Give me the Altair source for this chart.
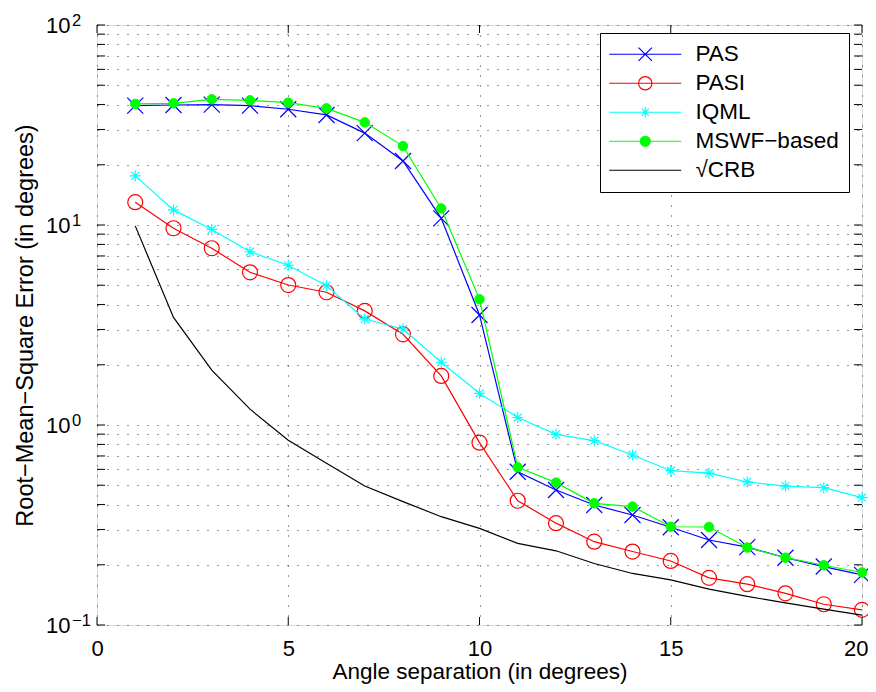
import altair as alt
import pandas as pd

# ---------------- data ----------------
angles = list(range(1, 21))
series_names = ["PAS", "PASI", "IQML", "MSWF−based", "√CRB"]
series_colors = ["#0000ff", "#ff0000", "#00ffff", "#00ff00", "#000000"]

pas = [39.5, 39.8, 40.0, 39.5, 37.9, 35.5, 28.8, 20.9, 10.8, 3.55,
       0.584, 0.473, 0.398, 0.355, 0.308, 0.266, 0.245, 0.217, 0.196, 0.178]
pasi = [13.0, 9.63, 7.65, 5.8, 5.01, 4.61, 3.72, 2.84, 1.76, 0.816,
        0.418, 0.323, 0.261, 0.233, 0.209, 0.172, 0.160, 0.144, 0.127, 0.119]
iqml = [17.6, 11.9, 9.5, 7.35, 6.29, 4.97, 3.39, 3.02, 2.06, 1.44,
        1.09, 0.898, 0.835, 0.708, 0.591, 0.574, 0.519, 0.495, 0.486, 0.433]
mswf = [40.3, 40.6, 42.5, 42.0, 40.9, 38.3, 32.6, 24.8, 12.1, 4.25,
        0.614, 0.515, 0.406, 0.391, 0.310, 0.309, 0.244, 0.217, 0.199, 0.183]
crb = [9.9, 3.45, 1.88, 1.2, 0.84, 0.643, 0.495, 0.414, 0.348, 0.304,
       0.256, 0.235, 0.203, 0.181, 0.168, 0.151, 0.139, 0.129, 0.120, 0.112]

x_tick_values = [0, 5, 10, 15, 20]
y_major_values = [0.1, 1, 10, 100]
y_major_base = "10"
y_major_exponents = ["−1", "0", "1", "2"]
y_minor_values = [0.2, 0.3, 0.4, 0.5, 0.6, 0.7, 0.8, 0.9,
                  2, 3, 4, 5, 6, 7, 8, 9,
                  20, 30, 40, 50, 60, 70, 80, 90]

# ---------------- tables ----------------
rows = []
for name, vals in zip(series_names, [pas, pasi, iqml, mswf, crb]):
    for a, v in zip(angles, vals):
        rows.append({"series": name, "angle": a, "rmse": v})
df = pd.DataFrame(rows)

y_all = sorted(y_major_values + y_minor_values)
ytick_df = pd.DataFrame({"v": y_all})
xtick_df = pd.DataFrame({"v": x_tick_values})
exp_df = pd.DataFrame({"v": y_major_values, "e": y_major_exponents})

W, H = 765, 600
FONT = "Liberation Sans"

label_expr = "''"
for v in reversed(y_major_values):
    label_expr = f"datum.value == {v} ? '{y_major_base}' : ({label_expr})"

xs = alt.Scale(domain=[0, 20], nice=False, zero=False)
ys = alt.Scale(type="log", domain=[0.1, 100], nice=False)

x_axis = alt.Axis(values=x_tick_values, title="Angle separation (in degrees)",
                  grid=True, gridDash=[1, 9], gridColor="#333333", gridWidth=1,
                  ticks=False, domain=False, labelPadding=13, labelFontSize=22,
                  labelFlush=True, labelFlushOffset=6,
                  titleFontSize=22.5, titleFontWeight="normal", titlePadding=1,
                  labelColor="black", titleColor="black", labelFont=FONT, titleFont=FONT)
y_axis = alt.Axis(values=y_all, labelExpr=label_expr,
                  title="Root−Mean−Square Error (in degrees)",
                  grid=True, gridDash=[1, 9], gridColor="#333333", gridWidth=1,
                  ticks=False, domain=False, labelPadding=27, labelFontSize=22,
                  labelFlush=False, labelOverlap=False,
                  titleFontSize=23.5, titleFontWeight="normal",
                  titlePadding=8, labelColor="black", titleColor="black",
                  labelFont=FONT, titleFont=FONT)

X = alt.X("angle:Q", scale=xs, axis=x_axis)
Y = alt.Y("rmse:Q", scale=ys, axis=y_axis)

X_PATH = "M-1,-1L1,1M-1,1L1,-1"
AST_PATH = "M-1,0L1,0M0,-1L0,1M-0.72,-0.72L0.72,0.72M-0.72,0.72L0.72,-0.72"

base = alt.Chart(df)
layers = []

# inward tick marks (Matlab style) on all four sides
tick_y = alt.Y("v:Q", scale=ys, axis=y_axis)
tick_x = alt.X("v:Q", scale=xs, axis=x_axis)
layers.append(alt.Chart(ytick_df).mark_rule(color="black", strokeWidth=1).encode(
    y=tick_y, x=alt.value(0), x2=alt.value(8)))
layers.append(alt.Chart(ytick_df).mark_rule(color="black", strokeWidth=1).encode(
    y=tick_y, x=alt.value(W), x2=alt.value(W - 8)))
layers.append(alt.Chart(xtick_df).mark_rule(color="black", strokeWidth=1).encode(
    x=tick_x, y=alt.value(H), y2=alt.value(H - 8)))
layers.append(alt.Chart(xtick_df).mark_rule(color="black", strokeWidth=1).encode(
    x=tick_x, y=alt.value(0), y2=alt.value(8)))

# exponents of the y tick labels (10^k)
layers.append(alt.Chart(exp_df).mark_text(
    align="left", baseline="alphabetic", fontSize=16.5, font=FONT, color="black",
    dx=-25, dy=1, clip=False).encode(
    y=tick_y, x=alt.value(0), text="e:N"))

marker_specs = {
    "PAS": dict(shape=X_PATH, size=256, filled=False),
    "PASI": dict(shape="circle", size=225, filled=False),
    "IQML": dict(shape=AST_PATH, size=121, filled=False),
    "MSWF−based": dict(shape="circle", size=90, filled=True),
}

for name, col in zip(series_names, series_colors):
    sub = base.transform_filter(alt.datum.series == name)
    layers.append(sub.mark_line(color=col, strokeWidth=1.2).encode(x=X, y=Y))
    if name in marker_specs:
        ms = marker_specs[name]
        if ms["filled"]:
            pm = sub.mark_point(shape=ms["shape"], size=ms["size"], filled=True,
                                fill=col, stroke=col, strokeWidth=1, opacity=1)
        else:
            pm = sub.mark_point(shape=ms["shape"], size=ms["size"], filled=False,
                                stroke=col, strokeWidth=1.2, opacity=1)
        layers.append(pm.encode(x=X, y=Y))

# legend (guide built from the series list; each symbol = line + marker)
legend_paths = [
    "M-3.6,0L3.6,0M-0.67,-0.67L0.67,0.67M-0.67,0.67L0.67,-0.67",
    "M-3.6,0L3.6,0M0.67,0A0.67,0.67 0 1 1 -0.67,0A0.67,0.67 0 1 1 0.67,0",
    "M-3.6,0L3.6,0M-0.5,0L0.5,0M0,-0.5L0,0.5M-0.36,-0.36L0.36,0.36M-0.36,0.36L0.36,-0.36",
    "M-3.6,0L3.6,0M0.5,0A0.5,0.5 0 1 1 -0.5,0A0.5,0.5 0 1 1 0.5,0",
    "M-3.6,0L3.6,0",
]
legend_fills = ["transparent", "transparent", "transparent", "#00ff00", "transparent"]

leg = alt.Legend(orient="none", legendX=503, legendY=8, title=None,
                 labelFontSize=22.5, labelFont=FONT, labelColor="black",
                 strokeColor="black", fillColor="white", padding=10,
                 cornerRadius=0, symbolSize=400, symbolStrokeWidth=1.2,
                 symbolOffset=24, labelOffset=39, rowPadding=6, symbolOpacity=1)

legend_layer = base.transform_filter("false").mark_point(strokeWidth=1.2, opacity=1).encode(
    x=X, y=Y,
    shape=alt.Shape("series:N", scale=alt.Scale(domain=series_names, range=legend_paths), legend=leg),
    stroke=alt.Stroke("series:N", scale=alt.Scale(domain=series_names, range=series_colors), legend=leg),
    fill=alt.Fill("series:N", scale=alt.Scale(domain=series_names, range=legend_fills), legend=leg),
)
layers.append(legend_layer)

chart = alt.layer(*layers).properties(
    width=W, height=H,
    autosize=alt.AutoSizeParams(type="none"),
    padding={"left": 89, "top": 17, "right": 6, "bottom": 59},
).configure_view(stroke="black", strokeWidth=1.5).configure(font=FONT)

chart.save("out.html", embed_options={"renderer": "svg", "actions": False})
